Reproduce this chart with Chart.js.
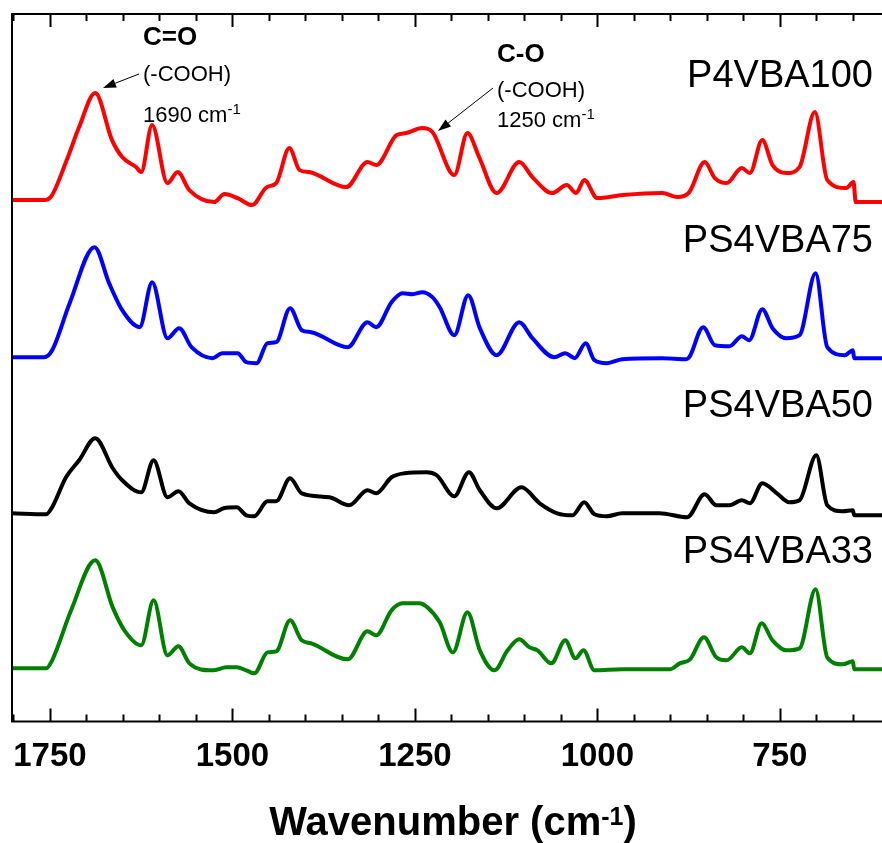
<!DOCTYPE html>
<html>
<head>
<meta charset="utf-8">
<script src="https://cdn.jsdelivr.net/npm/chart.js@4.4.1/dist/chart.umd.min.js"></script>
<style>
    body { margin: 0; background: #fff; }
    #ftirChart { display: block; }
</style>
</head>
<body>
<canvas id="ftirChart" width="882" height="843"></canvas>
<script>
// wavenumbers (cm-1) and stacked absorbance (a.u., offsets included)
const wnP4VBA100 = [1802,1758,1748,1727,1710,1688,1665,1651,1632,1625,1610,1589,1575,1559,1525,1511,1493,1473,1453,1440,1422,1408,1395,1344,1315,1303,1275,1262,1240,1226,1196,1178,1162,1138,1107,1089,1062,1042,1029,1018,1000,965,911,890,874,853,839,823,802,791,774,760,741,723,702,685,659,649,646,610];
const absP4VBA100 = [521,521,525,561,594,628,581,564,554,549,596,538,549,531,519,527,523,516,534,538,573,551,549,534,559,556,586,588,593,589,546,588,564,528,559,544,528,536,528,541,523,526,528,524,529,559,543,538,553,548,581,556,548,554,609,541,533,539,519,519];

const wnPS4VBA75 = [1802,1758,1747,1723,1689,1669,1651,1627,1610,1589,1573,1556,1527,1514,1493,1481,1467,1452,1440,1421,1405,1392,1342,1315,1303,1282,1267,1253,1240,1226,1216,1196,1177,1161,1138,1107,1089,1059,1044,1031,1016,1004,987,966,911,878,874,855,839,819,802,792,774,760,741,723,701,685,661,650,648,610];
const absPS4VBA75 = [364,364,371,418,474,438,411,394,439,383,393,374,363,368,368,359,358,378,379,413,391,389,374,399,394,419,428,427,429,424,414,386,426,393,366,399,383,364,368,363,378,361,358,362,363,362,364,394,376,375,385,381,412,393,383,386,448,374,366,371,363,363];

const wnPS4VBA50 = [1802,1755,1747,1728,1710,1688,1664,1651,1625,1608,1589,1574,1559,1525,1512,1494,1481,1470,1452,1440,1421,1405,1367,1340,1315,1303,1282,1264,1234,1220,1196,1176,1161,1138,1104,1079,1055,1034,1018,1004,987,966,915,877,853,837,819,802,791,774,754,737,723,700,685,664,650,648,610];
const absPS4VBA50 = [208,207,214,244,261,283,253,241,229,261,224,230,218,209,213,214,206,205,220,220,243,228,224,216,231,228,244,248,249,246,225,249,231,213,234,218,208,206,219,207,205,208,208,204,227,216,216,221,218,238,228,219,221,266,216,210,211,206,206];

const wnPS4VBA33 = [1802,1755,1747,1721,1688,1664,1648,1625,1608,1589,1574,1559,1527,1508,1494,1481,1470,1452,1440,1421,1405,1392,1342,1315,1303,1282,1267,1244,1233,1216,1198,1178,1161,1141,1123,1107,1093,1082,1063,1044,1030,1019,1004,966,901,887,873,854,837,823,802,791,775,760,741,723,701,685,664,650,648,610];
const absPS4VBA33 = [53,53,61,111,161,114,91,76,121,66,75,58,51,54,54,51,48,69,70,101,81,78,62,90,86,111,118,118,114,99,69,109,71,51,71,82,74,71,58,81,63,71,51,52,52,58,62,84,64,61,74,68,98,81,71,73,132,64,57,60,52,52];

const sampleNames = ['P4VBA100', 'PS4VBA75', 'PS4VBA50', 'PS4VBA33'];
const sampleColors = ['#ff0000', '#0000ff', '#000000', '#008000'];
const tickLabels = [1750, 1500, 1250, 1000, 750];

const FONT = "'Liberation Sans', Arial, sans-serif";

function toPoints(wn, abs) {
    return wn.map((w, i) => ({ x: w, y: abs[i] }));
}

const seriesData = [
    toPoints(wnP4VBA100, absP4VBA100),
    toPoints(wnPS4VBA75, absPS4VBA75),
    toPoints(wnPS4VBA50, absPS4VBA50),
    toPoints(wnPS4VBA33, absPS4VBA33)
];

// text with a superscript part, e.g. cm-1
function drawSup(ctx, x, y, parts, align) {
    let total = 0;
    parts.forEach(p => {
        ctx.font = p.font;
        total += ctx.measureText(p.text).width;
    });
    let cx = align === 'center' ? x - total / 2 : (align === 'right' ? x - total : x);
    ctx.textAlign = 'left';
    ctx.textBaseline = 'alphabetic';
    parts.forEach(p => {
        ctx.font = p.font;
        ctx.fillText(p.text, cx, y - (p.rise || 0));
        cx += ctx.measureText(p.text).width;
    });
}

function drawArrow(ctx, x1, y1, x2, y2) {
    const ang = Math.atan2(y2 - y1, x2 - x1);
    const len = 13, half = 4.5;
    const bx = x2 - len * Math.cos(ang), by = y2 - len * Math.sin(ang);
    ctx.beginPath();
    ctx.lineWidth = 1;
    ctx.moveTo(x1, y1);
    ctx.lineTo(bx, by);
    ctx.stroke();
    ctx.beginPath();
    ctx.moveTo(x2, y2);
    ctx.lineTo(bx + half * Math.sin(ang), by - half * Math.cos(ang));
    ctx.lineTo(bx - half * Math.sin(ang), by + half * Math.cos(ang));
    ctx.closePath();
    ctx.fill();
}

const decorPlugin = {
    id: 'decor',
    afterDatasetsDraw(chart) {
        const ctx = chart.ctx;
        const area = chart.chartArea;
        const xs = chart.scales.x;
        ctx.save();
        ctx.strokeStyle = '#000';
        ctx.fillStyle = '#000';

        // frame (left, top, bottom)
        ctx.lineWidth = 2;
        ctx.beginPath();
        ctx.moveTo(area.right + 2, area.top);
        ctx.lineTo(area.left, area.top);
        ctx.lineTo(area.left, area.bottom);
        ctx.lineTo(area.right + 2, area.bottom);
        ctx.stroke();

        // inward ticks on bottom and top
        for (let v = 650; v <= 1800; v += 50) {
            const px = Math.round(xs.getPixelForValue(v)) + 0.5;
            const len = v % 250 === 0 ? 13 : 7;
            ctx.beginPath();
            ctx.moveTo(px, area.bottom);
            ctx.lineTo(px, area.bottom - len);
            ctx.moveTo(px, area.top);
            ctx.lineTo(px, area.top + len);
            ctx.stroke();
        }

        // sample names
        ctx.font = '38px ' + FONT;
        ctx.textAlign = 'right';
        ctx.textBaseline = 'alphabetic';
        const nameY = [87, 252, 417, 563];
        sampleNames.forEach((n, i) => ctx.fillText(n, 873, nameY[i]));

        // band assignments
        ctx.font = 'bold 26px ' + FONT;
        ctx.textAlign = 'left';
        ctx.fillText('C=O', 143, 45);
        ctx.fillText('C-O', 497, 62);
        ctx.font = '22px ' + FONT;
        ctx.fillText('(-COOH)', 143, 81);
        ctx.fillText('(-COOH)', 497, 97);
        drawSup(ctx, 143, 122, [
            { text: '1690 cm', font: '22px ' + FONT },
            { text: '-1', font: '15px ' + FONT, rise: 8 }
        ], 'left');
        drawSup(ctx, 497, 127, [
            { text: '1250 cm', font: '22px ' + FONT },
            { text: '-1', font: '15px ' + FONT, rise: 8 }
        ], 'left');
        drawArrow(ctx, 139, 74, 103, 88);
        drawArrow(ctx, 493, 88, 438, 131);

        // x axis title
        drawSup(ctx, 453, 835, [
            { text: 'Wavenumber (cm', font: 'bold 40px ' + FONT },
            { text: '-1', font: 'bold 25px ' + FONT, rise: 10 },
            { text: ')', font: 'bold 40px ' + FONT }
        ], 'center');
        ctx.restore();
    }
};

const ctx = document.getElementById('ftirChart').getContext('2d');
new Chart(ctx, {
    type: 'line',
    data: {
        datasets: seriesData.map((pts, i) => ({
            label: sampleNames[i],
            data: pts,
            borderColor: sampleColors[i],
            borderWidth: 4,
            pointRadius: 0,
            cubicInterpolationMode: 'monotone',
            fill: false
        }))
    },
    options: {
        responsive: false,
        animation: false,
        layout: { padding: { left: 12, right: 0, top: 14, bottom: 58 } },
        plugins: { legend: { display: false }, tooltip: { enabled: false } },
        scales: {
            x: {
                type: 'linear',
                reverse: true,
                min: 610,
                max: 1802,
                afterBuildTicks: scale => {
                    scale.ticks = tickLabels.map(v => ({ value: v }));
                },
                grid: { display: false },
                border: { display: false },
                ticks: {
                    autoSkip: false,
                    maxRotation: 0,
                    padding: 8,
                    color: '#000',
                    font: { family: FONT, size: 33, weight: 'bold' },
                    callback: value => String(value)
                }
            },
            y: {
                display: false,
                min: 0,
                max: 707
            }
        }
    },
    plugins: [decorPlugin]
});
</script>
</body>
</html>
